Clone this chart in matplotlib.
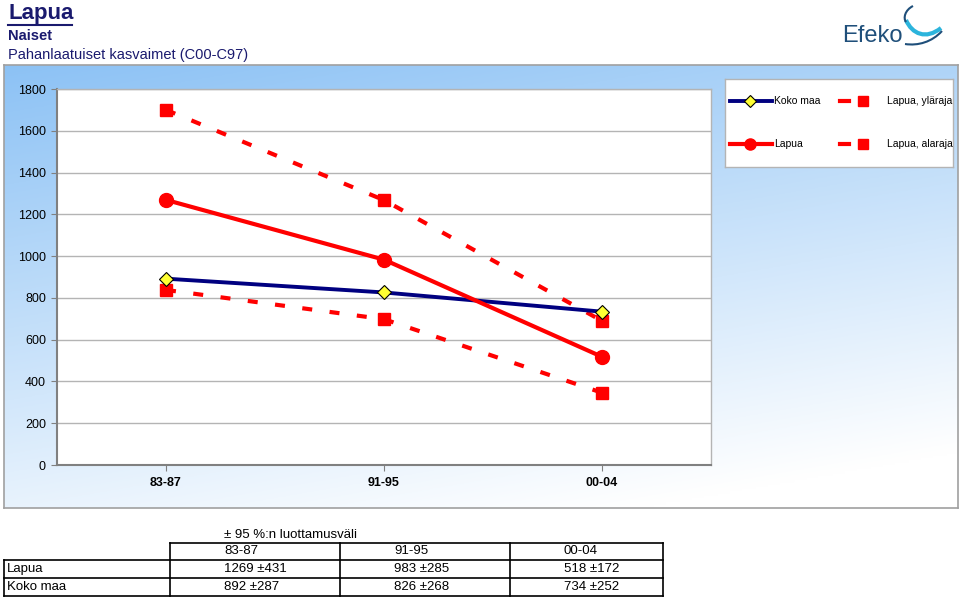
import numpy as np
import matplotlib.pyplot as plt
from matplotlib.patches import PathPatch
from matplotlib.path import Path
from matplotlib.lines import Line2D

plt.rcParams['font.family'] = ['Liberation Sans', 'DejaVu Sans']

# Data
periods = ['83-87', '91-95', '00-04']
koko_maa = [892, 826, 734]
koko_maa_ci = [287, 268, 252]
lapua = [1269, 983, 518]
lapua_ci = [431, 285, 172]
lapua_upper = [v + c for v, c in zip(lapua, lapua_ci)]
lapua_lower = [v - c for v, c in zip(lapua, lapua_ci)]
legend_labels = ['Koko maa', 'Lapua', 'Lapua, yläraja', 'Lapua, alaraja']

W, H = 960, 599
fig = plt.figure(figsize=(W / 100, H / 100), dpi=100)

def fx(px):
    return px / W

def fy(py):
    return 1 - py / H

RED = '#ff0000'
NAVY = '#000080'
DASH = (0, (2.4, 4.2))

# Chart background with gradient (blue top-left -> white)
bg = fig.add_axes([fx(4), fy(508), fx(954), (508 - 65) / H])
yy, xx = np.mgrid[0:1:200j, 0:1:400j]
t = np.clip(0.8 * yy + 0.3 * xx, 0, 1)
top = np.array([0.55, 0.76, 0.96])
bot = np.array([1.0, 1.0, 1.0])
img = top[None, None, :] * (1 - t[..., None]) + bot[None, None, :] * t[..., None]
bg.imshow(img, aspect='auto', extent=[0, 1, 0, 1], origin='upper')
bg.set_xticks([])
bg.set_yticks([])
for s in bg.spines.values():
    s.set_color('#a0a0a0')
    s.set_linewidth(1.2)

# Plot area
ax = fig.add_axes([fx(57), fy(465), fx(654), (465 - 89) / H])
ax.set_facecolor('white')
x = np.arange(len(periods))
ax.plot(x, lapua_upper, color=RED, lw=3, ls=DASH,
        marker='s', ms=8, mfc=RED, mec=RED, zorder=3)
ax.plot(x, lapua_lower, color=RED, lw=3, ls=DASH,
        marker='s', ms=8, mfc=RED, mec=RED, zorder=3)
ax.plot(x, koko_maa, color=NAVY, lw=2.8, marker='D', ms=7,
        mfc='#ffff33', mec='black', mew=0.8, zorder=4)
ax.plot(x, lapua, color=RED, lw=3, marker='o', ms=10,
        mfc=RED, mec=RED, zorder=4)

ax.set_xlim(-0.5, 2.5)
ax.set_ylim(0, 1800)
ax.set_yticks(range(0, 1801, 200))
ax.set_xticks(x)
ax.set_xticklabels(periods, fontsize=9, fontweight='bold')
ax.tick_params(axis='y', labelsize=9, length=4, color='#808080', pad=4)
ax.tick_params(axis='x', length=4, color='#808080', pad=5)
ax.grid(axis='y', color='#b4b4b4', lw=1)
ax.set_axisbelow(True)
for side in ['left', 'bottom']:
    ax.spines[side].set_color('#808080')
    ax.spines[side].set_linewidth(1.5)
for side in ['top', 'right']:
    ax.spines[side].set_color('#b4b4b4')
    ax.spines[side].set_linewidth(1)

# Legend (drawn in its own pixel-space axes)
lg = fig.add_axes([fx(725), fy(167), fx(228), (167 - 79) / H])
lg.set_xlim(725, 953)
lg.set_ylim(167, 79)
lg.set_xticks([])
lg.set_yticks([])
lg.set_facecolor('white')
for s in lg.spines.values():
    s.set_color('#b4b4b4')
    s.set_linewidth(1)
lg.plot([730, 772], [101, 101], color=NAVY, lw=2.8)
lg.plot([750], [101], marker='D', ms=6, mfc='#ffff33', mec='black', mew=0.8, color=NAVY)
lg.plot([730, 772], [144, 144], color=RED, lw=3)
lg.plot([750], [144], marker='o', ms=8, color=RED)
for yrow in [101, 144]:
    lg.plot([840, 849], [yrow, yrow], color=RED, lw=3)
    lg.plot([863], [yrow], marker='s', ms=7, color=RED)
lg.text(774, 101, legend_labels[0], fontsize=7.5, va='center', ha='left')
lg.text(774, 144, legend_labels[1], fontsize=7.5, va='center', ha='left')
lg.text(887, 101, legend_labels[2], fontsize=7.5, va='center', ha='left')
lg.text(887, 144, legend_labels[3], fontsize=7.5, va='center', ha='left')

# Titles
fig.text(fx(8), fy(14), 'Lapua', fontsize=16, fontweight='bold', color='#1a1a6e',
         va='center', ha='left')
fig.add_artist(Line2D([fx(8), fx(72)], [fy(25), fy(25)], color='#1a1a6e', lw=1.5))
fig.text(fx(8), fy(36), 'Naiset', fontsize=10.5, fontweight='bold', color='#1a1a6e',
         va='center', ha='left')
fig.text(fx(8), fy(55), 'Pahanlaatuiset kasvaimet (C00-C97)', fontsize=10.5,
         color='#1a1a6e', va='center', ha='left')

# Logo
fig.text(fx(842), fy(36), 'Efeko', fontsize=17, color='#1f4f7a', va='center', ha='left')
logo = fig.add_axes([fx(895), fy(50), fx(55), 50 / H])
logo.set_xlim(895, 950)
logo.set_ylim(50, 0)
logo.axis('off')
C = Path.CURVE4
swoosh_cyan = Path([(906, 20), (912, 34), (926, 40), (941, 28)], [Path.MOVETO, C, C, C])
swoosh_top = Path([(913, 6), (905, 10), (903, 18), (906, 22)], [Path.MOVETO, C, C, C])
swoosh_low = Path([(905, 44), (918, 46), (932, 42), (942, 31)], [Path.MOVETO, C, C, C])
logo.add_patch(PathPatch(swoosh_cyan, fc='none', ec='#2cb4dc', lw=3))
logo.add_patch(PathPatch(swoosh_top, fc='none', ec='#1f4f7a', lw=1.5))
logo.add_patch(PathPatch(swoosh_low, fc='none', ec='#1f4f7a', lw=1.5))

# Table
col_edges = [4, 170, 340, 510, 663]
row_edges = [543, 560, 578, 596]
fig.text(fx(224), fy(535), '± 95 %:n luottamusväli', fontsize=9.5,
         va='center', ha='left')

def hline(y, x0, x1):
    fig.add_artist(Line2D([fx(x0), fx(x1)], [fy(y), fy(y)], color='black', lw=1.2))

def vline(x0, y0, y1):
    fig.add_artist(Line2D([fx(x0), fx(x0)], [fy(y0), fy(y1)], color='black', lw=1.2))

hline(row_edges[0], col_edges[1], col_edges[-1])
for y in row_edges[1:]:
    hline(y, col_edges[0], col_edges[-1])
vline(col_edges[0], row_edges[1], row_edges[-1])
for xe in col_edges[1:]:
    vline(xe, row_edges[0], row_edges[-1])

row_names = ['Lapua', 'Koko maa']
row_vals = [lapua, koko_maa]
row_ci = [lapua_ci, koko_maa_ci]
for j, p in enumerate(periods):
    fig.text(fx(col_edges[j + 1] + 54), fy((row_edges[0] + row_edges[1]) / 2), p,
             fontsize=9.5, va='center', ha='left')
for i, name in enumerate(row_names):
    yc = (row_edges[i + 1] + row_edges[i + 2]) / 2
    fig.text(fx(col_edges[0] + 3), fy(yc), name, fontsize=9.5, va='center', ha='left')
    for j in range(len(periods)):
        fig.text(fx(col_edges[j + 1] + 54), fy(yc),
                 f'{row_vals[i][j]} ±{row_ci[i][j]}', fontsize=9.5,
                 va='center', ha='left')

fig.savefig('out.png', dpi=100)
